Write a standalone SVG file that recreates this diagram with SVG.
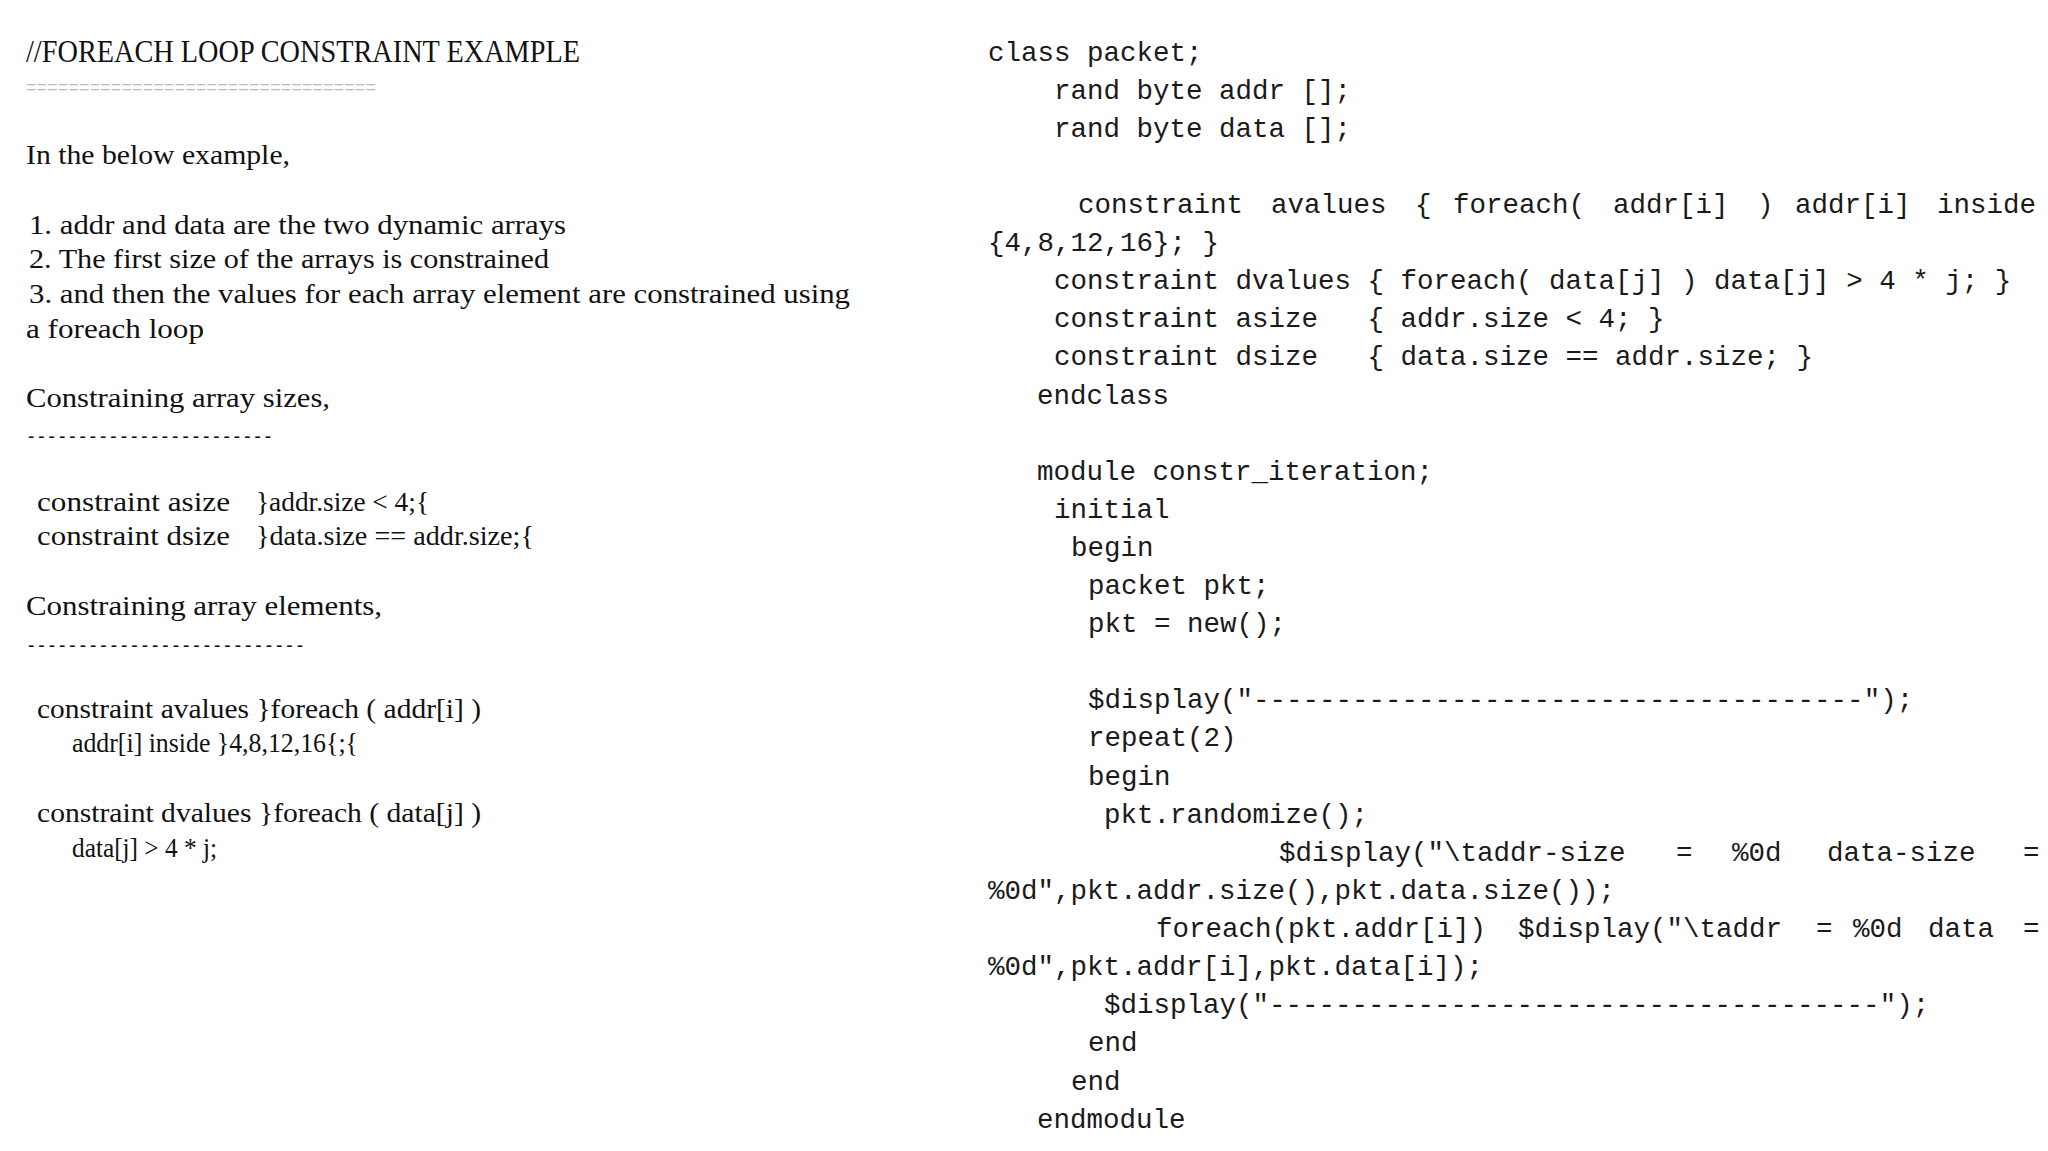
<svg xmlns="http://www.w3.org/2000/svg" width="2048" height="1151" viewBox="0 0 2048 1151">
<style>
.s{font-family:"Liberation Serif",serif;font-size:27px;fill:#111}
.t{font-family:"Liberation Serif",serif;font-size:31px;fill:#111}
.g{font-family:"Liberation Mono",monospace;font-size:18px;fill:#bbb}
.d{font-family:"Liberation Mono",monospace;font-size:20px;fill:#111}
.m{font-family:"Liberation Mono",monospace;font-size:27.5px;fill:#1a1a1a;white-space:pre}
</style>
<rect width="2048" height="1151" fill="#fff"/>
<g id="notes">
<text class="t" x="26" y="62" textLength="554" lengthAdjust="spacingAndGlyphs">//FOREACH LOOP CONSTRAINT EXAMPLE</text>
<text class="g" x="26" y="93" textLength="350" lengthAdjust="spacingAndGlyphs">=================================</text>
<text class="s" x="26" y="164" textLength="264" lengthAdjust="spacingAndGlyphs">In the below example,</text>
<text class="s" x="29" y="234" textLength="537" lengthAdjust="spacingAndGlyphs">1. addr and data are the two dynamic arrays</text>
<text class="s" x="29" y="268" textLength="520" lengthAdjust="spacingAndGlyphs">2. The first size of the arrays is constrained</text>
<text class="s" x="29" y="303" textLength="821" lengthAdjust="spacingAndGlyphs">3. and then the values for each array element are constrained using</text>
<text class="s" x="26" y="338" textLength="178" lengthAdjust="spacingAndGlyphs">a foreach loop</text>
<text class="s" x="26" y="407" textLength="304" lengthAdjust="spacingAndGlyphs">Constraining array sizes,</text>
<text class="d" x="26" y="443" textLength="247" lengthAdjust="spacingAndGlyphs">------------------------</text>
<text class="s" x="37" y="511" textLength="193" lengthAdjust="spacingAndGlyphs">constraint asize</text>
<text class="s" x="256" y="511" textLength="173" lengthAdjust="spacingAndGlyphs">}addr.size &lt; 4;{</text>
<text class="s" x="37" y="545" textLength="193" lengthAdjust="spacingAndGlyphs">constraint dsize</text>
<text class="s" x="256" y="545" textLength="278" lengthAdjust="spacingAndGlyphs">}data.size == addr.size;{</text>
<text class="s" x="26" y="615" textLength="356" lengthAdjust="spacingAndGlyphs">Constraining array elements,</text>
<text class="d" x="26" y="652" textLength="279" lengthAdjust="spacingAndGlyphs">---------------------------</text>
<text class="s" x="37" y="718" textLength="444" lengthAdjust="spacingAndGlyphs">constraint avalues }foreach ( addr[i] )</text>
<text class="s" x="72" y="752" textLength="286" lengthAdjust="spacingAndGlyphs">addr[i] inside }4,8,12,16{;{</text>
<text class="s" x="37" y="822" textLength="444" lengthAdjust="spacingAndGlyphs">constraint dvalues }foreach ( data[j] )</text>
<text class="s" x="72" y="857" textLength="145" lengthAdjust="spacingAndGlyphs">data[j] &gt; 4 * j;</text>
</g>
<g id="code">
<text class="m" x="988" y="61">class packet;</text>
<text class="m" x="1054" y="99">rand byte addr [];</text>
<text class="m" x="1054" y="137">rand byte data [];</text>
<text class="m" y="213"><tspan x="1078">constraint</tspan><tspan x="1271">avalues</tspan><tspan x="1415">{</tspan><tspan x="1453">foreach(</tspan><tspan x="1613">addr[i]</tspan><tspan x="1757">)</tspan><tspan x="1795">addr[i]</tspan><tspan x="1937">inside</tspan></text>
<text class="m" x="988" y="251">{4,8,12,16}; }</text>
<text class="m" x="1054" y="289">constraint dvalues { foreach( data[j] ) data[j] &gt; 4 * j; }</text>
<text class="m" x="1054" y="327">constraint asize   { addr.size &lt; 4; }</text>
<text class="m" x="1054" y="365">constraint dsize   { data.size == addr.size; }</text>
<text class="m" x="1037" y="404">endclass</text>
<text class="m" x="1037" y="480">module constr_iteration;</text>
<text class="m" x="1054" y="518">initial</text>
<text class="m" x="1071" y="556">begin</text>
<text class="m" x="1088" y="594">packet pkt;</text>
<text class="m" x="1088" y="632">pkt = new();</text>
<text class="m" x="1088" y="708">$display("-------------------------------------");</text>
<text class="m" x="1088" y="746">repeat(2)</text>
<text class="m" x="1088" y="785">begin</text>
<text class="m" x="1104" y="823">pkt.randomize();</text>
<text class="m" y="861"><tspan x="1279">$display("\taddr-size</tspan><tspan x="1676">=</tspan><tspan x="1732">%0d</tspan><tspan x="1827">data-size</tspan><tspan x="2023">=</tspan></text>
<text class="m" x="988" y="899">%0d",pkt.addr.size(),pkt.data.size());</text>
<text class="m" y="937"><tspan x="1156">foreach(pkt.addr[i])</tspan><tspan x="1518">$display("\taddr</tspan><tspan x="1816">=</tspan><tspan x="1853">%0d</tspan><tspan x="1928">data</tspan><tspan x="2023">=</tspan></text>
<text class="m" x="988" y="975">%0d",pkt.addr[i],pkt.data[i]);</text>
<text class="m" x="1104" y="1013">$display("-------------------------------------");</text>
<text class="m" x="1088" y="1051">end</text>
<text class="m" x="1071" y="1090">end</text>
<text class="m" x="1037" y="1128">endmodule</text>
</g>
</svg>
